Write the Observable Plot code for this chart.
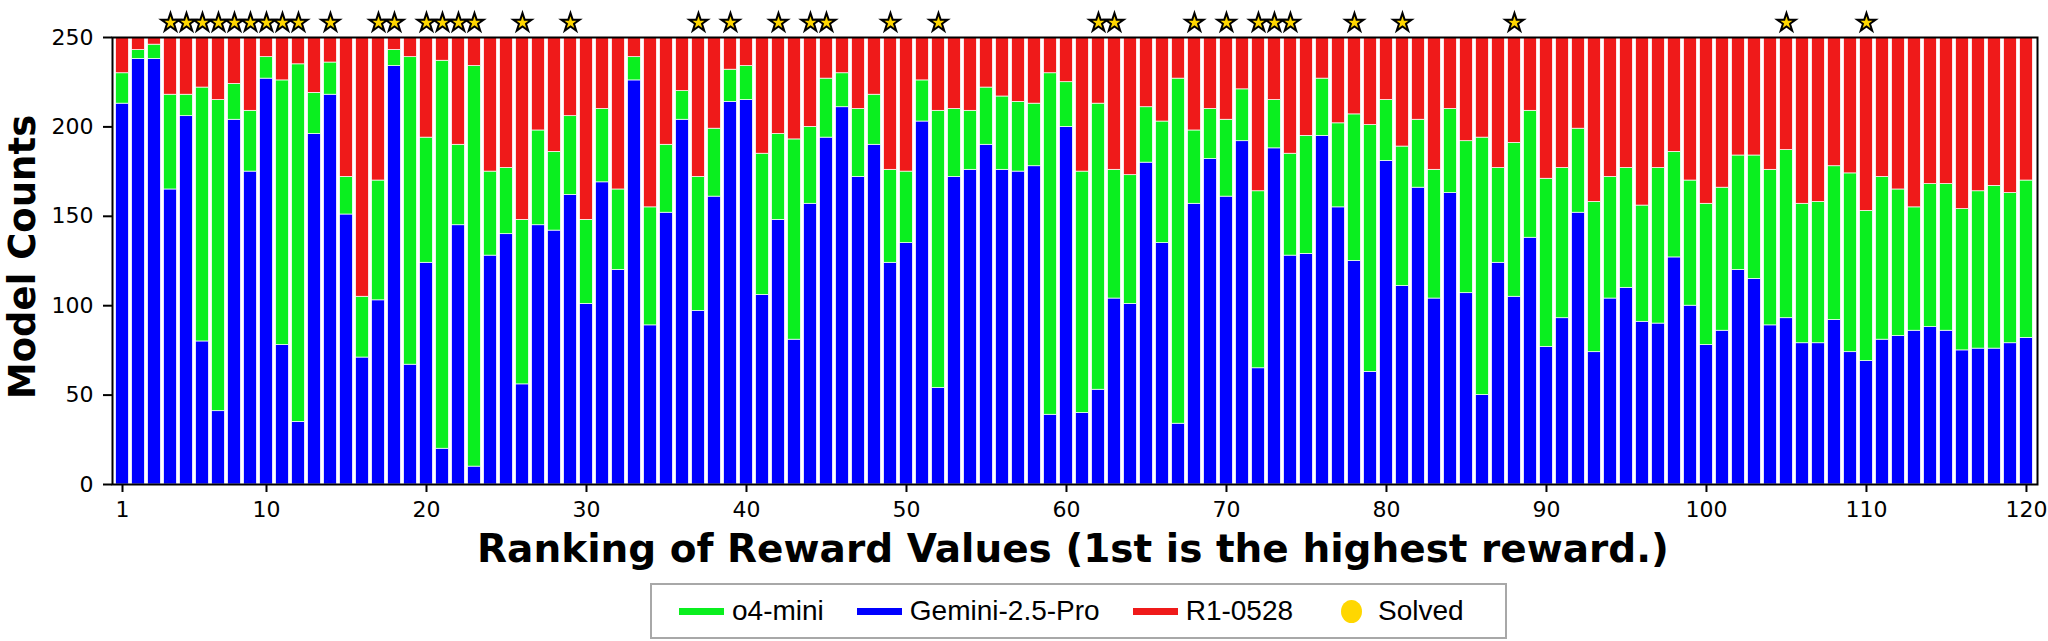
<!DOCTYPE html>
<html>
<head>
<meta charset="utf-8">
<script src="https://cdn.jsdelivr.net/npm/d3@7"></script>
<script src="https://cdn.jsdelivr.net/npm/@observablehq/plot@0.6"></script>
<style>
  html, body { margin: 0; padding: 0; background: #fff; }
  #wrap { position: relative; width: 2048px; height: 641px; overflow: hidden; }
  #legend {
    position: absolute; left: 650px; top: 583px; width: 853px; height: 52px;
    border: 2px solid #a8a8a8; display: flex; align-items: center;
    font-family: "Liberation Sans", Arial, sans-serif; font-size: 28px; color: #000;
    box-sizing: content-box;
  }
  #legend .item { display: flex; align-items: center; }
  #legend .sw { width: 45px; height: 7px; margin-right: 8px; }
  #legend .dot { width: 21px; height: 23px; border-radius: 50%; background: #ffd700; margin-right: 16px; }
</style>
</head>
<body>
<div id="wrap">
  <div id="chart"></div>
  <div id="legend"></div>
</div>
<script>
// Ranking positions (1st is the highest reward)
const ranks = d3.range(1, 121);
// Gemini-2.5-Pro counts (bottom segment)
const gemini = [213,238,238,165,206,80,41,204,175,227,78,35,196,218,151,71,103,234,67,124,
  20,145,10,128,140,56,145,142,162,101,169,120,226,89,152,204,97,161,214,215,
  106,148,81,157,194,211,172,190,124,135,203,54,172,176,190,176,175,178,39,200,
  40,53,104,101,180,135,34,157,182,161,192,65,188,128,129,195,155,125,63,181,
  111,166,104,163,107,50,124,105,138,77,93,152,74,104,110,91,90,127,100,78,
  86,120,115,89,93,79,79,92,74,69,81,83,86,88,86,75,76,76,79,82];
// o4-mini counts (middle segment)
const o4mini = [17,5,8,53,12,142,174,20,34,12,148,200,23,18,21,34,67,9,172,70,
  217,45,224,47,37,92,53,44,44,47,41,45,13,66,38,16,75,38,18,19,
  79,48,112,43,33,19,38,28,52,40,23,155,38,33,32,41,39,35,191,25,
  135,160,72,72,31,68,193,41,28,43,29,99,27,57,66,32,47,82,138,34,
  78,38,72,47,85,144,53,86,71,94,84,47,84,68,67,65,87,59,70,79,
  80,64,69,87,94,78,79,86,100,84,91,82,69,80,82,79,88,91,84,88];
// R1-0528 counts (top segment)
const r1 = [20,7,4,32,32,28,35,26,41,11,24,15,31,14,78,145,80,7,11,56,
  13,60,16,75,73,102,52,64,44,102,40,85,11,95,60,30,78,51,18,16,
  65,54,57,50,23,20,40,32,74,75,24,41,40,41,28,33,36,37,20,25,
  75,37,74,77,39,47,23,52,40,46,29,86,35,65,55,23,48,43,49,35,
  61,46,74,40,58,56,73,59,41,79,73,51,92,78,73,94,73,64,80,93,
  84,66,66,74,63,93,92,72,76,97,78,85,95,82,82,96,86,83,87,80];
// Ranks whose task was solved (star markers)
const solved = [4,5,6,7,8,9,10,11,12,14,17,18,20,21,22,23,26,29,37,39,42,44,45,49,52,
  62,63,68,70,72,73,74,78,81,88,105,110];
const xTicks = [1,10,20,30,40,50,60,70,80,90,100,110,120];
const yTicks = [0,50,100,150,200,250];
const seriesNames = ["o4-mini","Gemini-2.5-Pro","R1-0528"];
const seriesColors = {"o4-mini":"#0aef1f","Gemini-2.5-Pro":"#0000ff","R1-0528":"#ef1a1a"};

// build segment table (bottom to top: Gemini, o4-mini, R1)
const rows = [];
ranks.forEach((r, i) => {
  const g = gemini[i], o = o4mini[i], d = r1[i];
  rows.push({rank: r, model: "Gemini-2.5-Pro", y1: 0, y2: g});
  rows.push({rank: r, model: "o4-mini", y1: g, y2: g + o});
  rows.push({rank: r, model: "R1-0528", y1: g + o, y2: g + o + d});
});
const starRows = solved.map(r => ({rank: r, y: 258.3}));

const chart = Plot.plot({
  width: 2048, height: 580,
  marginLeft: 112, marginRight: 11, marginTop: 37, marginBottom: 96,
  style: {fontFamily: "DejaVu Sans", fontSize: "22px", background: "white", overflow: "visible", color: "black"},
  x: {domain: [0.375, 120.69]},
  y: {domain: [0, 250]},
  color: {domain: seriesNames, range: seriesNames.map(n => seriesColors[n])},
  marks: [
    Plot.rect(rows, {x1: d => d.rank - 0.4, x2: d => d.rank + 0.4, y1: "y1", y2: "y2", fill: "model", stroke: "white", strokeWidth: 0.7}),
    Plot.frame({stroke: "black", strokeWidth: 2}),
    Plot.axisX({ticks: xTicks, tickFormat: d => d, tickSize: 8, tickPadding: 9, strokeWidth: 2, label: null, fontSize: 22}),
    Plot.axisY({ticks: yTicks, tickFormat: d => d, tickSize: 9, tickPadding: 10, strokeWidth: 2, label: null, fontSize: 22}),
    Plot.dot(starRows, {x: "rank", y: "y", symbol: "star", r: 5.8, fill: "#ffd700", stroke: "black", strokeWidth: 2})
  ]
});

const svg = d3.select(chart);
svg.append("text")
  .attr("x", 1073).attr("y", 562)
  .attr("text-anchor", "middle")
  .attr("font-family", "DejaVu Sans").attr("font-weight", "bold").attr("font-size", 39)
  .attr("fill", "black")
  .text("Ranking of Reward Values (1st is the highest reward.)");
svg.append("text")
  .attr("transform", "translate(35,257) rotate(-90)")
  .attr("text-anchor", "middle")
  .attr("font-family", "DejaVu Sans").attr("font-weight", "bold").attr("font-size", 37)
  .attr("fill", "black")
  .text("Model Counts");

document.getElementById("chart").appendChild(chart);

// legend
const legend = d3.select("#legend");
const inner = legend.append("div").style("display", "flex").style("align-items", "center").style("margin-left", "27px");
seriesNames.forEach((n, i) => {
  const it = inner.append("div").attr("class", "item").style("margin-right", i === 2 ? "48px" : "33px");
  it.append("div").attr("class", "sw").style("background", seriesColors[n]);
  it.append("span").text(n);
});
const it = inner.append("div").attr("class", "item");
it.append("div").attr("class", "dot");
it.append("span").text("Solved");
</script>
</body>
</html>
